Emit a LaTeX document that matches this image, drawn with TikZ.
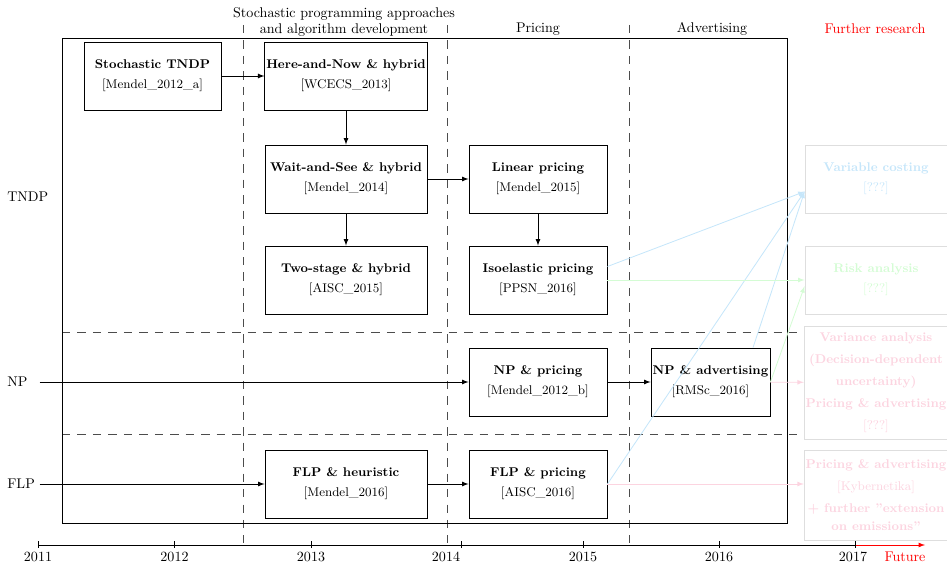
\documentclass[tikz,border=0pt]{standalone}
\usepackage{tikz}
\usetikzlibrary{positioning}
\definecolor{skyline}{RGB}{198,230,250}
\definecolor{mintline}{RGB}{212,252,212}
\definecolor{roseline}{RGB}{252,212,224}
\definecolor{fadedgray}{RGB}{222,222,222}
\tikzstyle{workbox} = [draw=black, semithick, rectangle, align=center,
    font=\small, minimum height=1.7cm, inner sep=1pt]
\tikzstyle{futurebox} = [draw=fadedgray, semithick, rectangle, align=center,
    font=\small, minimum width=3.55cm, minimum height=1.7cm, inner sep=1pt]
\tikzstyle{rowlabel} = [anchor=west, inner sep=0pt, text width=0.8cm, align=left]
\tikzstyle{divider} = [draw=black!70, semithick, dash pattern=on 6pt off 5pt]
\tikzstyle{flow} = [->, >=latex, semithick]
\tikzstyle{bluelink} = [->, >=latex, semithick, skyline]
\tikzstyle{greenlink} = [->, >=latex, semithick, mintline]
\tikzstyle{pinklink} = [->, >=latex, semithick, roseline]
\newcommand{\entry}[2]{\textbf{#1}\\[3.2pt]#2}

\begin{document}
\begin{tikzpicture}[x=0.025cm, y=-0.025cm]
                \useasboundingbox (0,0) rectangle (947,564);
                % columns and rows
                \foreach \xx in {243,447,629}
                    \draw[divider] (\xx,25) -- (\xx,543);
                \foreach \yy in {332,434}
                    \draw[divider] (62,\yy) -- (797,\yy);
                \draw[semithick] (62,38) rectangle (787,523);

                % headers
                \node[align=center] (hstoch) at (344,22) {Stochastic programming approaches\\and algorithm development};
                \node (hprice) at (538,29) {Pricing};
                \node (hadv) at (712,29) {Advertising};
                \node[text=red] (hfurther) at (875,29) {Further research};

                % row labels
                \node[rowlabel] (tndplabel) at (7,197) {TNDP};
                \node[rowlabel] (nplabel) at (7,382) {NP};
                \node[rowlabel] (flplabel) at (7,484) {FLP};

                % published work
                \node[workbox, minimum width=3.425cm] (stndp) at (152.5,76) {\entry{Stochastic TNDP}{[Mendel\_2012\_a]}};
                \node[workbox, minimum width=4.05cm] (herenow) at (346,76) {\entry{Here-and-Now \& hybrid}{[WCECS\_2013]}};
                \node[workbox, minimum width=4.05cm] (waitsee) at (346,179) {\entry{Wait-and-See \& hybrid}{[Mendel\_2014]}};
                \node[workbox, minimum width=4.05cm] (twostage) at (346,280) {\entry{Two-stage \& hybrid}{[AISC\_2015]}};
                \node[workbox, minimum width=3.45cm] (linprice) at (538,179) {\entry{Linear pricing}{[Mendel\_2015]}};
                \node[workbox, minimum width=3.45cm] (isoprice) at (538,280) {\entry{Isoelastic pricing}{[PPSN\_2016]}};
                \node[workbox, minimum width=3.45cm] (npprice) at (538,382) {\entry{NP \& pricing}{[Mendel\_2012\_b]}};
                \node[workbox, minimum width=2.975cm] (npadv) at (710.5,382) {\entry{NP \& advertising}{[RMSc\_2016]}};
                \node[workbox, minimum width=4.05cm] (flpheur) at (346,484) {\entry{FLP \& heuristic}{[Mendel\_2016]}};
                \node[workbox, minimum width=3.45cm] (flpprice) at (538,484) {\entry{FLP \& pricing}{[AISC\_2016]}};

                % further research
                \node[futurebox, text=skyline] (varcost) at (876,179) {\entry{Variable costing}{[???]}};
                \node[futurebox, text=mintline] (risk) at (876,280) {\entry{Risk analysis}{[???]}};
                \node[futurebox, text=roseline, minimum height=2.825cm] (variance) at (876,382.5) {%
                    \textbf{Variance analysis}\\[4.6pt]\textbf{(Decision-dependent}\\[4.6pt]\textbf{uncertainty)}\\[4.6pt]%
                    \textbf{Pricing \& advertising}\\[4.6pt]{}[???]};
                \node[futurebox, text=roseline, minimum height=2.25cm] (pricadv) at (876,495) {%
                    \textbf{Pricing \& advertising}\\[5pt]{}[Kybernetika]\\[4.6pt]\textbf{+ further ''extension}\\[1.5pt]\textbf{on emissions''}};

                % links
                \draw[flow] (stndp) -- (herenow);
                \draw[flow] (herenow) -- (waitsee);
                \draw[flow] (waitsee) -- (twostage);
                \draw[flow] (waitsee) -- (linprice);
                \draw[flow] (linprice) -- (isoprice);
                \draw[flow] (nplabel) -- (npprice);
                \draw[flow] (npprice) -- (npadv);
                \draw[flow] (flplabel) -- (flpheur);
                \draw[flow] (flpheur) -- (flpprice);

                \draw[bluelink] (isoprice.11) -- (varcost.190);
                \draw[bluelink] (flpprice.east) -- (varcost.190);
                \draw[bluelink] (npadv.39) -- (varcost.190);
                \draw[greenlink] (isoprice) -- (risk);
                \draw[greenlink] (npadv.east) -- (risk.185);
                \draw[pinklink] (npadv) -- (variance);
                \draw[pinklink] (flpprice.east) -- (flpprice.east -| pricadv.west);

                % time axis
                \coordinate (axisstart) at (38,545);
                \coordinate (now) at (855,545);
                \coordinate (later) at (925,545);
                \draw[semithick] (axisstart) -- (now);
                \draw[red, semithick, -latex] (now) -- (later);
                \foreach \yr/\tx/\lx in {2011/38/38, 2012/174.5/174.5, 2013/311/311, 2014/461/446, 2015/583/583, 2016/719/719, 2017/855/853}{
                    \draw[semithick] (\tx,541) -- (\tx,548);
                    \node (y\yr) at (\lx,557) {\yr};
                }
                \node[text=red] (futurelabel) at (905,557) {Future};
            \end{tikzpicture}
\end{document}
